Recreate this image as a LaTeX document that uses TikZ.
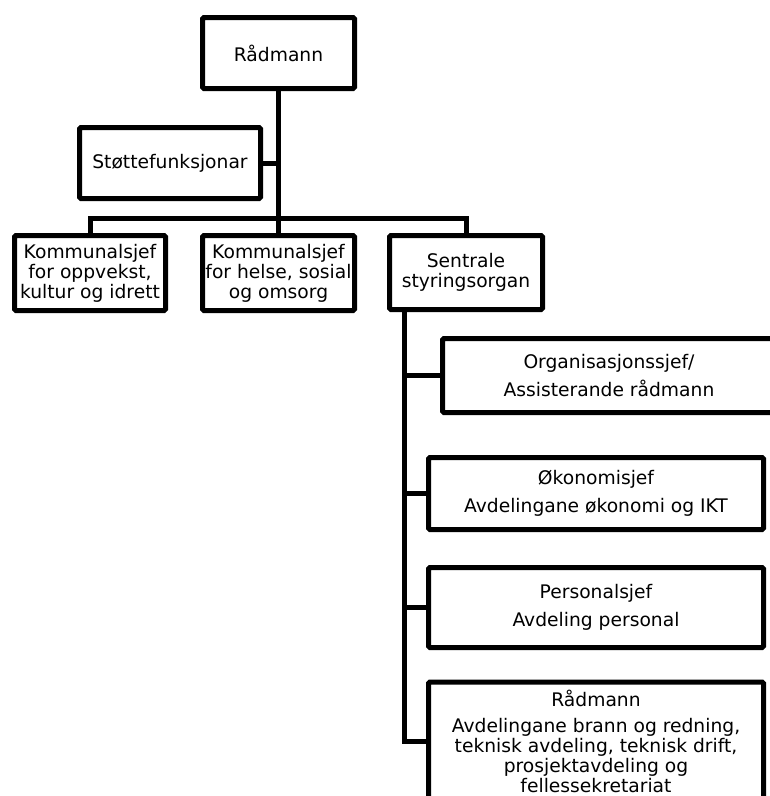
\documentclass[tikz,border=0pt]{standalone}
\usepackage{fontspec}
\setmainfont{DejaVu Sans}
\begin{document}
\begin{tikzpicture}[x=1pt,y=-1pt,
    box/.style={draw,line width=5pt,rounded corners=1.5pt,align=center,
      inner sep=0pt,font=\fontsize{18.7}{20}\selectfont},
    link/.style={line width=5pt}]
      \useasboundingbox (0,0) rectangle (770,796);
      \clip (0,0) rectangle (770,796);
      \node[box,minimum width=152pt,minimum height=71pt] (radmann) at (278.5,53) {Rådmann};
      \node[box,minimum width=181pt,minimum height=71pt] (stotte) at (170,163) {Støttefunksjonar};
      \node[box,minimum width=151pt,minimum height=75pt] (oppvekst) at (90,273)
        {Kommunalsjef\\for oppvekst,\\kultur og idrett};
      \node[box,minimum width=152pt,minimum height=75pt] (helse) at (278.5,273)
        {Kommunalsjef\\for helse, sosial\\og omsorg};
      \node[box,minimum width=153pt,minimum height=74pt] (sentrale) at (466,272.5)
        {Sentrale\\styringsorgan};
      \node[box,minimum width=333pt,minimum height=74pt] (org) at (609,375.5)
        {Organisasjonssjef/\\[7pt]Assisterande rådmann};
      \node[box,minimum width=335pt,minimum height=72pt] (okonomi) at (596,493.5)
        {Økonomisjef\\[8pt]Avdelingane økonomi og IKT};
      \node[box,minimum width=335pt,minimum height=118pt] (teknisk) at (596,741)
        {Rådmann\\[6pt]Avdelingane brann og redning,\\teknisk avdeling, teknisk drift,\\prosjektavdeling og\\fellessekretariat};
      \node[box,minimum width=335pt,minimum height=80pt] (personal) at (596,607.5)
        {Personalsjef\\[8pt]Avdeling personal};
      \coordinate (bar) at (278.5,218);
      \coordinate (trunk) at (404,310);
      \begin{scope}[link]
        \draw (radmann) to (helse);
        \draw (stotte.east) to (stotte.east -| radmann.south);
        \draw (oppvekst.north) |- (bar) -| (sentrale.north);
        \draw (trunk) |- (org.west);
        \draw (trunk) |- (okonomi.west);
        \draw (trunk) |- (personal.west);
        \draw (trunk) |- (teknisk.west);
      \end{scope}
    \end{tikzpicture}
\end{document}
